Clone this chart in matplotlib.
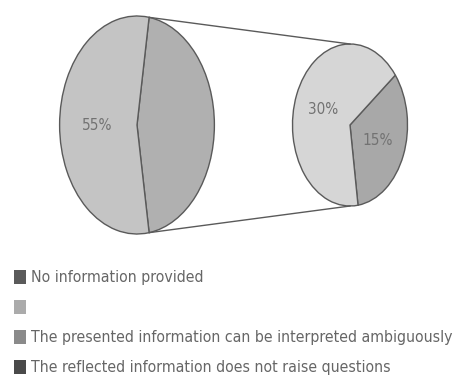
import matplotlib.pyplot as plt
import numpy as np
from matplotlib.patches import Patch

# main pie: grouped "other" slice (split in the second pie) and the 55% slice
main_values = [45, 55]
main_colors = ['#b0b0b0', '#c4c4c4']
# second pie: the split of the grouped slice
sub_values = [15, 30]
sub_colors = ['#a8a8a8', '#d6d6d6']

legend_labels = ['No information provided',
                 '',
                 'The presented information can be interpreted ambiguously',
                 'The reflected information does not raise questions']
legend_colors = ['#5a5a5a', '#ababab', '#8a8a8a', '#4a4a4a']

W, H = 453, 378
squash = 0.71  # the whole chart is narrowed horizontally

fig = plt.figure(figsize=(W / 100, H / 100), dpi=100)
ax = fig.add_axes([0, 0, 1, 1])

edge = dict(edgecolor='#5a5a5a', linewidth=1.0)
txt = dict(color='#727272', fontsize=11, family='DejaVu Sans', fontstretch='condensed')

main_center, main_r = (137 / squash, H - 125), 109
sub_center, sub_r = (350 / squash, H - 125), 81

main_wedges, _, _ = ax.pie(main_values, colors=main_colors, startangle=-81,
                           center=main_center, radius=main_r, wedgeprops=edge,
                           autopct=lambda p: f'{p:.0f}%' if p > 50 else '',
                           pctdistance=0.52, textprops=txt)

sub_total = sum(sub_values)
ax.pie(sub_values, colors=sub_colors, startangle=-82,
       center=sub_center, radius=sub_r, wedgeprops=edge,
       autopct=lambda p: f'{p * sub_total / 100:.0f}%',
       pctdistance=0.51, textprops=txt)

# connector lines from the grouped slice to the top and bottom of the second pie
other = main_wedges[0]
for ang, sy in [(other.theta2, 1), (other.theta1, -1)]:
    x0 = main_center[0] + main_r * np.cos(np.radians(ang))
    y0 = main_center[1] + main_r * np.sin(np.radians(ang))
    ax.plot([x0, sub_center[0]], [y0, sub_center[1] + sy * sub_r],
            color='#5a5a5a', linewidth=1.0)

ax.set_aspect('auto')
ax.set_xlim(0, W / squash)
ax.set_ylim(0, H)
ax.axis('off')

handles = [Patch(facecolor=c, edgecolor='none') for c in legend_colors]
fig.legend(handles, legend_labels, loc='upper left', bbox_to_anchor=(0.031, 0.287),
           frameon=False, handlelength=0.77, handleheight=1.03, handletextpad=0.32,
           labelspacing=0.93, borderpad=0, borderaxespad=0,
           prop=dict(family='DejaVu Sans', stretch='condensed', size=11.3),
           labelcolor='#666666')

fig.savefig('out.png', dpi=100)
